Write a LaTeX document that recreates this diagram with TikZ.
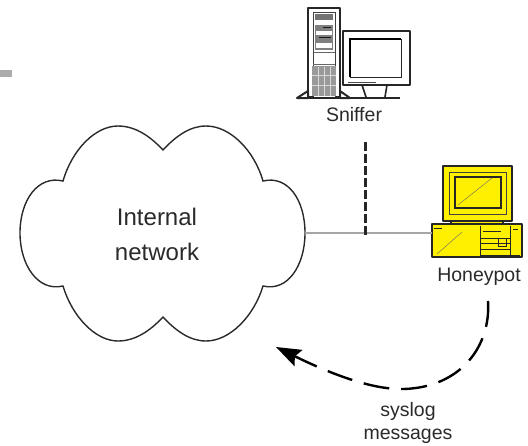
\documentclass[tikz,border=0pt]{standalone}
\usepackage{fontspec}
\setmainfont{Liberation Sans}
\usetikzlibrary{arrows.meta}
\definecolor{ink}{HTML}{2A2A2A}
\definecolor{hpy}{HTML}{FFF000}
\tikzset{
 lab/.style={font=\fontsize{19.5}{23}\selectfont,text=ink,inner sep=0pt,align=center},
 cloudlab/.style={font=\fontsize{24}{35}\selectfont,text=ink,inner sep=0pt,align=center},
 outl/.style={draw=ink,line width=1.4pt},
 heavy/.style={draw=black!85,line width=2pt,line join=round},
 thin/.style={draw=black!75,line width=.7pt},
 link/.style={draw=black!35,line width=1.5pt},
 pc/.style={draw=black!85,line width=2pt,fill=hpy,line join=round},
}
\begin{document}
\begin{tikzpicture}[x=1pt,y=-1pt]
\useasboundingbox (0,0) rectangle (528,445);
% grey stub
\fill[black!33] (0,70) rectangle (12,77);
% cloud
\draw[outl,fill=white] (163,150)
 .. controls (150,136) and (135,126) .. (118,126)
 .. controls (95,126) and (72,150) .. (63,181)
 .. controls (38,175) and (20,200) .. (20,233)
 .. controls (20,265) and (38,292) .. (63,286)
 .. controls (72,316) and (95,341) .. (118,341)
 .. controls (135,341) and (150,331) .. (163,317)
 .. controls (176,331) and (190,341) .. (206,341)
 .. controls (230,341) and (254,316) .. (263,286)
 .. controls (288,292) and (305,265) .. (305,233)
 .. controls (305,200) and (288,175) .. (263,181)
 .. controls (254,150) and (230,126) .. (206,126)
 .. controls (190,126) and (176,136) .. (163,150) -- cycle;
\node[cloudlab] (net) at (157,234) {Internal\\network};
\coordinate (cloudE) at (305,233);
% honeypot base as node
\node[pc,minimum width=90pt,minimum height=33pt,inner sep=0pt] (hp) at (477,240.5) {};
\coordinate (junction) at (365,236);
\coordinate (hpW) at (432,233);
\draw[link] (cloudE) -- (hpW);
% honeypot monitor
\draw[pc] (451,221) rectangle (503,224);
\draw[pc] (443,166) rectangle (512,221);
\draw[thin] (449,172) rectangle (506,214);
\draw[black!85,line width=1.5pt,fill=hpy] (455,177) rectangle (501,208);
\draw[black!60,line width=.4pt] (458,205) -- (492,178);
\draw[black!60,line width=.4pt] (437,254) -- (462,232);
\draw[black!85,line width=1pt] (434,228) -- (442,228);
\draw[black!85,line width=.9pt] (480,226) -- (480,255) (480,255) -- (520,255)
 (483,231) -- (501,231) (480,238) -- (510,238) (480,243) -- (510,243) (480,249) -- (510,249)
 (498,238) rectangle (506,246)
 (510,226) -- (510,255) (513,229) -- (518,229);
\node[lab] (hplab) at (479,277) {Honeypot};
% sniffer
\node[draw=none,minimum width=103pt,minimum height=2pt,inner sep=0pt] (snbase) at (348.5,98) {};
\draw[heavy,fill=white] (308,8) rectangle (340,97);
\draw[thin,fill=white] (313,12) rectangle (335,97);
\fill[black!55] (315,14) rectangle (333,20);
\fill[black!50] (315,25) rectangle (333,50);
\fill[white] (316,21) rectangle (332,25);
\fill[white] (316,31) rectangle (332,35);
\fill[white] (316,43) rectangle (332,48);
\draw[black!90,line width=1pt] (323,27) -- (331,27) (319,37) -- (331,37);
\fill[black!40] (312,66) rectangle (336,96);
\draw[black!15,line width=.6pt] (318,67) -- (318,96) (324,67) -- (324,96) (330,67) -- (330,96) (312,75) -- (336,75) (312,85) -- (336,85);
\fill[white] (315,55) rectangle (333,63);
\draw[black!60,line width=.6pt] (313,52) -- (335,52) (313,64) -- (335,64);
\draw[heavy,fill=white] (343,31) -- (410,31) -- (410,85) -- (343,85) -- cycle;
\draw[black!85,line width=1pt,fill=white] (350,39) rectangle (401,77);
\draw[black,line width=2.6pt] (350,77) -- (350,39) -- (401,39);
\draw[black!70,line width=1pt] (348,82) -- (376,82);
\draw[black!85,line width=1.6pt] (362,85) -- (366,97) (387,85) -- (385,97);
\draw[heavy] (297,98) -- (400,98);
\draw[heavy,fill=white] (297,98) -- (308,91) -- (308,98) -- cycle;
\draw[heavy,fill=white] (340,91) -- (350,98) -- (340,98) -- cycle;
\node[lab] (snlab) at (354,115) {Sniffer};
\coordinate (snS) at (365,142);
\draw[draw=black!85,line width=3pt,dash pattern=on 9pt off 3pt] (snS) -- (junction);
% syslog
\coordinate (hpS) at (488,301);
\coordinate (cloudSE) at (276,347);
\draw[draw=black,line width=2.4pt,dash pattern=on 26pt off 12pt,-{Stealth[length=25pt,width=18pt,inset=4pt]}]
 (hpS) .. controls (491,345) and (462,387) .. (404,389) .. controls (375,390) and (335,376) .. (cloudSE);
\node[lab] (sys) at (408,423) {syslog\\messages};
\end{tikzpicture}
\end{document}
